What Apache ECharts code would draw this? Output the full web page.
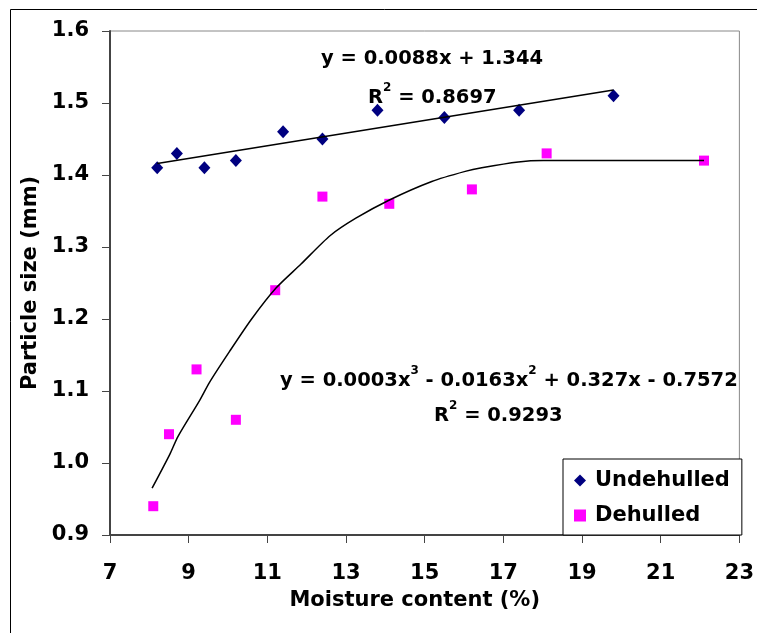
<!DOCTYPE html>
<html>
<head>
<meta charset="utf-8">
<script src="https://cdn.jsdelivr.net/npm/echarts@6/dist/echarts.min.js"></script>
<style>
  html, body { margin: 0; padding: 0; background: #fff; }
  #main { width: 757px; height: 633px; }
</style>
</head>
<body>
<div id="main"></div>
<script>
// measured points
var undehulledX = [8.2, 8.7, 9.4, 10.2, 11.4, 12.4, 13.8, 15.5, 17.4, 19.8];
var undehulledY = [1.41, 1.43, 1.41, 1.42, 1.46, 1.45, 1.49, 1.48, 1.49, 1.51];
var dehulledX = [8.1, 8.5, 9.2, 10.2, 11.2, 12.4, 14.1, 16.2, 18.1, 22.1];
var dehulledY = [0.94, 1.04, 1.13, 1.06, 1.24, 1.37, 1.36, 1.38, 1.43, 1.42];

// trend lines
var linFitX = [8.2, 19.8];
var linFitY = [1.416, 1.518];
var polyFitX = [8.07, 8.52, 8.73, 9.28, 9.53, 10.04, 10.6, 11.22, 11.85, 12.6, 13.25, 14.09, 15.18, 16.03, 16.45, 17.38, 18.01, 22.1];
var polyFitY = [0.965, 1.012, 1.037, 1.087, 1.112, 1.155, 1.2, 1.243, 1.276, 1.316, 1.34, 1.365, 1.391, 1.405, 1.41, 1.418, 1.42, 1.42];

var xTicks = [7, 23, 2];
var yTicks = [0.9, 1.6, 0.1];

function pairs(xs, ys) {
	return xs.map(function (x, i) { return [x, ys[i]]; });
}

var font = 'DejaVu Sans, Arial, sans-serif';
var chart = echarts.init(document.getElementById('main'));

var eqRich = {
	b: { font: 'bold 19.5px ' + font, fill: '#000', lineHeight: 26, verticalAlign: 'bottom' },
	s: { font: 'bold 12px ' + font, fill: '#000', lineHeight: 26, verticalAlign: 'top' }
};

var option = {
	backgroundColor: '#fff',
	animation: false,
	textStyle: { fontFamily: font },
	grid: {
		left: 110, top: 31, right: 15, bottom: 98,
		show: true, borderColor: '#888', borderWidth: 1
	},
	xAxis: {
		type: 'value',
		min: xTicks[0], max: xTicks[1], interval: xTicks[2],
		name: 'Moisture content (%)',
		nameLocation: 'middle',
		nameGap: 55,
		nameTextStyle: { fontSize: 21, fontWeight: 'bold', color: '#000', fontFamily: font, padding: [0, 20, 0, 0] },
		axisLine: { lineStyle: { color: '#444', width: 2 } },
		axisTick: { show: true, length: 8, lineStyle: { color: '#444', width: 1 } },
		axisLabel: { fontSize: 21, fontWeight: 'bold', color: '#000', margin: 28, fontFamily: font },
		splitLine: { show: false }
	},
	yAxis: {
		type: 'value',
		min: yTicks[0], max: yTicks[1], interval: yTicks[2],
		name: 'Particle size (mm)',
		nameLocation: 'middle',
		nameGap: 66,
		nameTextStyle: { fontSize: 21, fontWeight: 'bold', color: '#000', fontFamily: font },
		axisLine: { lineStyle: { color: '#444', width: 2 } },
		axisTick: { show: true, length: 8, lineStyle: { color: '#444', width: 1 } },
		axisLabel: {
			fontSize: 21, fontWeight: 'bold', color: '#000', margin: 21, fontFamily: font,
			formatter: function (v) { return v.toFixed(1); }
		},
		splitLine: { show: false }
	},
	legend: {
		data: ['Undehulled', 'Dehulled'],
		orient: 'vertical',
		left: 563, top: 459,
		width: 179,
		padding: [11, 12, 9, 11],
		itemGap: 14,
		itemWidth: 12, itemHeight: 12,
		borderColor: '#000', borderWidth: 1,
		backgroundColor: '#fff',
		textStyle: { fontSize: 21, fontWeight: 'bold', color: '#000', fontFamily: font, padding: [0, 0, 0, 4] }
	},
	graphic: [
		{
			type: 'rect', silent: true, z: -10,
			shape: { x: 10.5, y: 9.5, width: 900, height: 800 },
			style: { fill: 'none', stroke: '#000', lineWidth: 1 }
		},
		{
			type: 'text', left: 321, top: 49, z: 100,
			style: { text: 'y = 0.0088x + 1.344', font: 'bold 19.5px ' + font, fill: '#000' }
		},
		{
			type: 'text', left: 368, top: 82, z: 100,
			style: { text: '{b|R}{s|2}{b| = 0.8697}', rich: eqRich }
		},
		{
			type: 'text', left: 280, top: 365, z: 100,
			style: { text: '{b|y = 0.0003x}{s|3}{b| - 0.0163x}{s|2}{b| + 0.327x - 0.7572}', rich: eqRich }
		},
		{
			type: 'text', left: 434, top: 400, z: 100,
			style: { text: '{b|R}{s|2}{b| = 0.9293}', rich: eqRich }
		}
	],
	series: [
		{
			name: 'Undehulled',
			type: 'scatter',
			symbol: 'diamond',
			symbolSize: [12, 13],
			itemStyle: { color: '#000080', opacity: 1 },
			data: pairs(undehulledX, undehulledY),
			z: 3
		},
		{
			name: 'Dehulled',
			type: 'scatter',
			symbol: 'rect',
			symbolSize: 10,
			itemStyle: { color: '#FF00FF', opacity: 1 },
			data: pairs(dehulledX, dehulledY),
			z: 3
		},
		{
			name: 'linear fit',
			type: 'line',
			showSymbol: false,
			lineStyle: { color: '#000', width: 1.5 },
			data: pairs(linFitX, linFitY),
			z: 4
		},
		{
			name: 'poly fit',
			type: 'line',
			showSymbol: false,
			smooth: 0.25,
			lineStyle: { color: '#000', width: 1.5 },
			data: pairs(polyFitX, polyFitY),
			z: 4
		}
	]
};

chart.setOption(option);
</script>
</body>
</html>
